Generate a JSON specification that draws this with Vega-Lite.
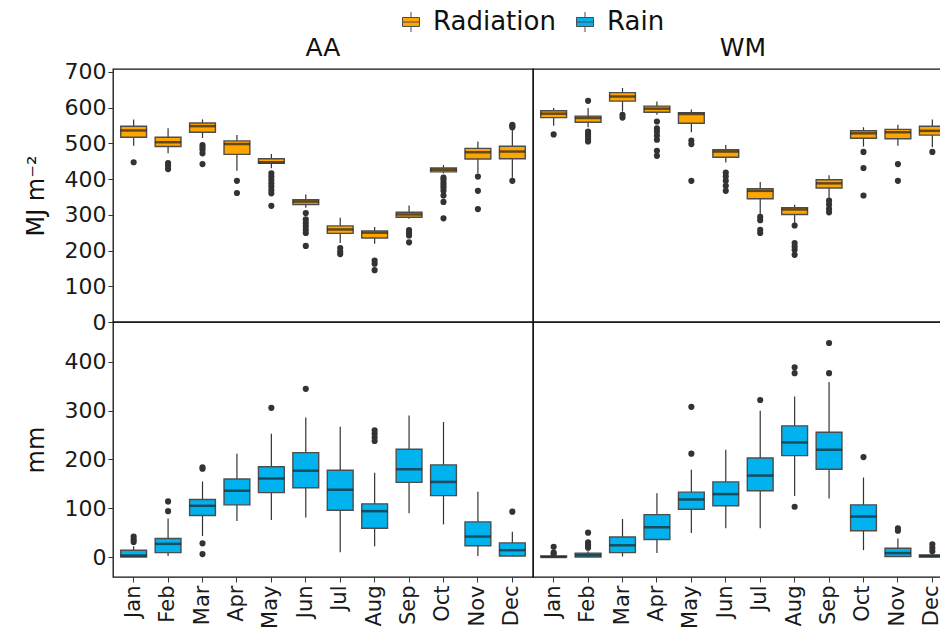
{
  "$schema": "https://vega.github.io/schema/vega-lite/v6.json",
  "padding": {"left": 23, "top": 9, "right": 0, "bottom": 0},
  "config": {
    "font": "DejaVu Sans",
    "view": {"stroke": "#111111", "strokeWidth": 1.3},
    "title": {"fontSize": 25, "fontWeight": "normal", "color": "#111111", "offset": 8},
    "axis": {"grid": false, "domain": false, "labelColor": "#1a1a1a", "labelFontSize": 22, "labelOverlap": false, "tickColor": "#333333", "tickSize": 5, "titleFontWeight": "normal", "titleColor": "#111111", "titleFontSize": 24}
  },
  "datasets": {
    "stats": [
      {"var": "Radiation", "site": "AA", "month": "Jan", "lo": 493, "q1": 517, "med": 536, "q3": 548, "hi": 567},
      {"var": "Radiation", "site": "AA", "month": "Feb", "lo": 472, "q1": 491, "med": 503, "q3": 517, "hi": 542},
      {"var": "Radiation", "site": "AA", "month": "Mar", "lo": 515, "q1": 531, "med": 548, "q3": 557, "hi": 567},
      {"var": "Radiation", "site": "AA", "month": "Apr", "lo": 423, "q1": 469, "med": 498, "q3": 507, "hi": 523},
      {"var": "Radiation", "site": "AA", "month": "May", "lo": 430, "q1": 444, "med": 447, "q3": 457, "hi": 470},
      {"var": "Radiation", "site": "AA", "month": "Jun", "lo": 320, "q1": 329, "med": 337, "q3": 342, "hi": 357},
      {"var": "Radiation", "site": "AA", "month": "Jul", "lo": 221, "q1": 248, "med": 259, "q3": 269, "hi": 292},
      {"var": "Radiation", "site": "AA", "month": "Aug", "lo": 219, "q1": 235, "med": 250, "q3": 255, "hi": 266},
      {"var": "Radiation", "site": "AA", "month": "Sep", "lo": 289, "q1": 293, "med": 301, "q3": 307, "hi": 326},
      {"var": "Radiation", "site": "AA", "month": "Oct", "lo": 416, "q1": 420, "med": 426, "q3": 431, "hi": 439},
      {"var": "Radiation", "site": "AA", "month": "Nov", "lo": 416, "q1": 456, "med": 475, "q3": 486, "hi": 505},
      {"var": "Radiation", "site": "AA", "month": "Dec", "lo": 404, "q1": 457, "med": 477, "q3": 492, "hi": 540},
      {"var": "Radiation", "site": "WM", "month": "Jan", "lo": 549, "q1": 572, "med": 583, "q3": 591, "hi": 599},
      {"var": "Radiation", "site": "WM", "month": "Feb", "lo": 545, "q1": 559, "med": 571, "q3": 576, "hi": 599},
      {"var": "Radiation", "site": "WM", "month": "Mar", "lo": 589, "q1": 618, "med": 631, "q3": 642, "hi": 655},
      {"var": "Radiation", "site": "WM", "month": "Apr", "lo": 580, "q1": 587, "med": 597, "q3": 604, "hi": 617},
      {"var": "Radiation", "site": "WM", "month": "May", "lo": 531, "q1": 556, "med": 582, "q3": 586, "hi": 595},
      {"var": "Radiation", "site": "WM", "month": "Jun", "lo": 446, "q1": 461, "med": 477, "q3": 482, "hi": 495},
      {"var": "Radiation", "site": "WM", "month": "Jul", "lo": 301, "q1": 345, "med": 367, "q3": 373, "hi": 392},
      {"var": "Radiation", "site": "WM", "month": "Aug", "lo": 277, "q1": 301, "med": 315, "q3": 320, "hi": 328},
      {"var": "Radiation", "site": "WM", "month": "Sep", "lo": 348, "q1": 375, "med": 388, "q3": 398, "hi": 411},
      {"var": "Radiation", "site": "WM", "month": "Oct", "lo": 491, "q1": 514, "med": 528, "q3": 535, "hi": 545},
      {"var": "Radiation", "site": "WM", "month": "Nov", "lo": 493, "q1": 513, "med": 531, "q3": 539, "hi": 552},
      {"var": "Radiation", "site": "WM", "month": "Dec", "lo": 489, "q1": 523, "med": 535, "q3": 548, "hi": 567},
      {"var": "Rain", "site": "AA", "month": "Jan", "lo": 0, "q1": 0, "med": 3, "q3": 14, "hi": 22},
      {"var": "Rain", "site": "AA", "month": "Feb", "lo": 2, "q1": 9, "med": 27, "q3": 38, "hi": 79},
      {"var": "Rain", "site": "AA", "month": "Mar", "lo": 43, "q1": 85, "med": 105, "q3": 118, "hi": 155},
      {"var": "Rain", "site": "AA", "month": "Apr", "lo": 74, "q1": 107, "med": 136, "q3": 160, "hi": 212},
      {"var": "Rain", "site": "AA", "month": "May", "lo": 76, "q1": 132, "med": 161, "q3": 185, "hi": 253},
      {"var": "Rain", "site": "AA", "month": "Jun", "lo": 81, "q1": 142, "med": 177, "q3": 214, "hi": 286},
      {"var": "Rain", "site": "AA", "month": "Jul", "lo": 10, "q1": 96, "med": 138, "q3": 178, "hi": 267},
      {"var": "Rain", "site": "AA", "month": "Aug", "lo": 22, "q1": 59, "med": 94, "q3": 109, "hi": 173},
      {"var": "Rain", "site": "AA", "month": "Sep", "lo": 90, "q1": 153, "med": 180, "q3": 221, "hi": 290},
      {"var": "Rain", "site": "AA", "month": "Oct", "lo": 67, "q1": 126, "med": 154, "q3": 189, "hi": 277},
      {"var": "Rain", "site": "AA", "month": "Nov", "lo": 2, "q1": 23, "med": 42, "q3": 72, "hi": 134},
      {"var": "Rain", "site": "AA", "month": "Dec", "lo": 1, "q1": 2, "med": 14, "q3": 29, "hi": 52},
      {"var": "Rain", "site": "WM", "month": "Jan", "lo": 0, "q1": 0, "med": 0, "q3": 2, "hi": 5},
      {"var": "Rain", "site": "WM", "month": "Feb", "lo": 0, "q1": 0, "med": 4, "q3": 8, "hi": 12},
      {"var": "Rain", "site": "WM", "month": "Mar", "lo": 1, "q1": 9, "med": 24, "q3": 41, "hi": 78},
      {"var": "Rain", "site": "WM", "month": "Apr", "lo": 8, "q1": 36, "med": 61, "q3": 87, "hi": 131},
      {"var": "Rain", "site": "WM", "month": "May", "lo": 49, "q1": 98, "med": 118, "q3": 133, "hi": 179},
      {"var": "Rain", "site": "WM", "month": "Jun", "lo": 59, "q1": 105, "med": 129, "q3": 154, "hi": 220},
      {"var": "Rain", "site": "WM", "month": "Jul", "lo": 59, "q1": 136, "med": 167, "q3": 203, "hi": 300},
      {"var": "Rain", "site": "WM", "month": "Aug", "lo": 125, "q1": 208, "med": 235, "q3": 269, "hi": 329},
      {"var": "Rain", "site": "WM", "month": "Sep", "lo": 120, "q1": 180, "med": 220, "q3": 256, "hi": 359},
      {"var": "Rain", "site": "WM", "month": "Oct", "lo": 14, "q1": 54, "med": 83, "q3": 107, "hi": 163},
      {"var": "Rain", "site": "WM", "month": "Nov", "lo": 0, "q1": 1, "med": 8, "q3": 18, "hi": 38},
      {"var": "Rain", "site": "WM", "month": "Dec", "lo": 0, "q1": 0, "med": 2, "q3": 4, "hi": 8},
      {"var": "Radiation", "site": "AA", "month": "Jan", "out": 447},
      {"var": "Radiation", "site": "AA", "month": "Feb", "out": 445},
      {"var": "Radiation", "site": "AA", "month": "Feb", "out": 437},
      {"var": "Radiation", "site": "AA", "month": "Feb", "out": 428},
      {"var": "Radiation", "site": "AA", "month": "Mar", "out": 495},
      {"var": "Radiation", "site": "AA", "month": "Mar", "out": 489},
      {"var": "Radiation", "site": "AA", "month": "Mar", "out": 482},
      {"var": "Radiation", "site": "AA", "month": "Mar", "out": 472},
      {"var": "Radiation", "site": "AA", "month": "Mar", "out": 442},
      {"var": "Radiation", "site": "AA", "month": "Apr", "out": 395},
      {"var": "Radiation", "site": "AA", "month": "Apr", "out": 361},
      {"var": "Radiation", "site": "AA", "month": "May", "out": 416},
      {"var": "Radiation", "site": "AA", "month": "May", "out": 407},
      {"var": "Radiation", "site": "AA", "month": "May", "out": 398},
      {"var": "Radiation", "site": "AA", "month": "May", "out": 388},
      {"var": "Radiation", "site": "AA", "month": "May", "out": 379},
      {"var": "Radiation", "site": "AA", "month": "May", "out": 369},
      {"var": "Radiation", "site": "AA", "month": "May", "out": 360},
      {"var": "Radiation", "site": "AA", "month": "May", "out": 325},
      {"var": "Radiation", "site": "AA", "month": "Jun", "out": 305},
      {"var": "Radiation", "site": "AA", "month": "Jun", "out": 287},
      {"var": "Radiation", "site": "AA", "month": "Jun", "out": 277},
      {"var": "Radiation", "site": "AA", "month": "Jun", "out": 268},
      {"var": "Radiation", "site": "AA", "month": "Jun", "out": 258},
      {"var": "Radiation", "site": "AA", "month": "Jun", "out": 249},
      {"var": "Radiation", "site": "AA", "month": "Jun", "out": 213},
      {"var": "Radiation", "site": "AA", "month": "Jul", "out": 207},
      {"var": "Radiation", "site": "AA", "month": "Jul", "out": 197},
      {"var": "Radiation", "site": "AA", "month": "Jul", "out": 190},
      {"var": "Radiation", "site": "AA", "month": "Aug", "out": 172},
      {"var": "Radiation", "site": "AA", "month": "Aug", "out": 163},
      {"var": "Radiation", "site": "AA", "month": "Aug", "out": 145},
      {"var": "Radiation", "site": "AA", "month": "Sep", "out": 257},
      {"var": "Radiation", "site": "AA", "month": "Sep", "out": 249},
      {"var": "Radiation", "site": "AA", "month": "Sep", "out": 242},
      {"var": "Radiation", "site": "AA", "month": "Sep", "out": 223},
      {"var": "Radiation", "site": "AA", "month": "Oct", "out": 404},
      {"var": "Radiation", "site": "AA", "month": "Oct", "out": 398},
      {"var": "Radiation", "site": "AA", "month": "Oct", "out": 390},
      {"var": "Radiation", "site": "AA", "month": "Oct", "out": 383},
      {"var": "Radiation", "site": "AA", "month": "Oct", "out": 376},
      {"var": "Radiation", "site": "AA", "month": "Oct", "out": 367},
      {"var": "Radiation", "site": "AA", "month": "Oct", "out": 354},
      {"var": "Radiation", "site": "AA", "month": "Oct", "out": 336},
      {"var": "Radiation", "site": "AA", "month": "Oct", "out": 290},
      {"var": "Radiation", "site": "AA", "month": "Nov", "out": 407},
      {"var": "Radiation", "site": "AA", "month": "Nov", "out": 367},
      {"var": "Radiation", "site": "AA", "month": "Nov", "out": 316},
      {"var": "Radiation", "site": "AA", "month": "Dec", "out": 552},
      {"var": "Radiation", "site": "AA", "month": "Dec", "out": 548},
      {"var": "Radiation", "site": "AA", "month": "Dec", "out": 545},
      {"var": "Radiation", "site": "AA", "month": "Dec", "out": 395},
      {"var": "Radiation", "site": "WM", "month": "Jan", "out": 525},
      {"var": "Radiation", "site": "WM", "month": "Feb", "out": 619},
      {"var": "Radiation", "site": "WM", "month": "Feb", "out": 533},
      {"var": "Radiation", "site": "WM", "month": "Feb", "out": 526},
      {"var": "Radiation", "site": "WM", "month": "Feb", "out": 520},
      {"var": "Radiation", "site": "WM", "month": "Feb", "out": 512},
      {"var": "Radiation", "site": "WM", "month": "Feb", "out": 505},
      {"var": "Radiation", "site": "WM", "month": "Mar", "out": 580},
      {"var": "Radiation", "site": "WM", "month": "Mar", "out": 572},
      {"var": "Radiation", "site": "WM", "month": "Apr", "out": 561},
      {"var": "Radiation", "site": "WM", "month": "Apr", "out": 542},
      {"var": "Radiation", "site": "WM", "month": "Apr", "out": 533},
      {"var": "Radiation", "site": "WM", "month": "Apr", "out": 522},
      {"var": "Radiation", "site": "WM", "month": "Apr", "out": 510},
      {"var": "Radiation", "site": "WM", "month": "Apr", "out": 479},
      {"var": "Radiation", "site": "WM", "month": "Apr", "out": 465},
      {"var": "Radiation", "site": "WM", "month": "May", "out": 508},
      {"var": "Radiation", "site": "WM", "month": "May", "out": 498},
      {"var": "Radiation", "site": "WM", "month": "May", "out": 395},
      {"var": "Radiation", "site": "WM", "month": "Jun", "out": 418},
      {"var": "Radiation", "site": "WM", "month": "Jun", "out": 407},
      {"var": "Radiation", "site": "WM", "month": "Jun", "out": 395},
      {"var": "Radiation", "site": "WM", "month": "Jun", "out": 381},
      {"var": "Radiation", "site": "WM", "month": "Jun", "out": 367},
      {"var": "Radiation", "site": "WM", "month": "Jul", "out": 294},
      {"var": "Radiation", "site": "WM", "month": "Jul", "out": 285},
      {"var": "Radiation", "site": "WM", "month": "Jul", "out": 258},
      {"var": "Radiation", "site": "WM", "month": "Jul", "out": 249},
      {"var": "Radiation", "site": "WM", "month": "Aug", "out": 270},
      {"var": "Radiation", "site": "WM", "month": "Aug", "out": 221},
      {"var": "Radiation", "site": "WM", "month": "Aug", "out": 211},
      {"var": "Radiation", "site": "WM", "month": "Aug", "out": 202},
      {"var": "Radiation", "site": "WM", "month": "Aug", "out": 188},
      {"var": "Radiation", "site": "WM", "month": "Sep", "out": 340},
      {"var": "Radiation", "site": "WM", "month": "Sep", "out": 329},
      {"var": "Radiation", "site": "WM", "month": "Sep", "out": 317},
      {"var": "Radiation", "site": "WM", "month": "Sep", "out": 307},
      {"var": "Radiation", "site": "WM", "month": "Oct", "out": 476},
      {"var": "Radiation", "site": "WM", "month": "Oct", "out": 431},
      {"var": "Radiation", "site": "WM", "month": "Oct", "out": 354},
      {"var": "Radiation", "site": "WM", "month": "Nov", "out": 442},
      {"var": "Radiation", "site": "WM", "month": "Nov", "out": 395},
      {"var": "Radiation", "site": "WM", "month": "Dec", "out": 476},
      {"var": "Rain", "site": "AA", "month": "Jan", "out": 42},
      {"var": "Rain", "site": "AA", "month": "Jan", "out": 36},
      {"var": "Rain", "site": "AA", "month": "Jan", "out": 31},
      {"var": "Rain", "site": "AA", "month": "Feb", "out": 114},
      {"var": "Rain", "site": "AA", "month": "Feb", "out": 94},
      {"var": "Rain", "site": "AA", "month": "Mar", "out": 184},
      {"var": "Rain", "site": "AA", "month": "Mar", "out": 181},
      {"var": "Rain", "site": "AA", "month": "Mar", "out": 28},
      {"var": "Rain", "site": "AA", "month": "Mar", "out": 6},
      {"var": "Rain", "site": "AA", "month": "May", "out": 306},
      {"var": "Rain", "site": "AA", "month": "Jun", "out": 345},
      {"var": "Rain", "site": "AA", "month": "Aug", "out": 260},
      {"var": "Rain", "site": "AA", "month": "Aug", "out": 253},
      {"var": "Rain", "site": "AA", "month": "Aug", "out": 245},
      {"var": "Rain", "site": "AA", "month": "Aug", "out": 238},
      {"var": "Rain", "site": "AA", "month": "Dec", "out": 93},
      {"var": "Rain", "site": "WM", "month": "Jan", "out": 21},
      {"var": "Rain", "site": "WM", "month": "Jan", "out": 9},
      {"var": "Rain", "site": "WM", "month": "Jan", "out": 6},
      {"var": "Rain", "site": "WM", "month": "Feb", "out": 50},
      {"var": "Rain", "site": "WM", "month": "Feb", "out": 30},
      {"var": "Rain", "site": "WM", "month": "Feb", "out": 26},
      {"var": "Rain", "site": "WM", "month": "Feb", "out": 23},
      {"var": "Rain", "site": "WM", "month": "Feb", "out": 19},
      {"var": "Rain", "site": "WM", "month": "May", "out": 212},
      {"var": "Rain", "site": "WM", "month": "May", "out": 308},
      {"var": "Rain", "site": "WM", "month": "Jul", "out": 322},
      {"var": "Rain", "site": "WM", "month": "Aug", "out": 389},
      {"var": "Rain", "site": "WM", "month": "Aug", "out": 377},
      {"var": "Rain", "site": "WM", "month": "Aug", "out": 103},
      {"var": "Rain", "site": "WM", "month": "Sep", "out": 439},
      {"var": "Rain", "site": "WM", "month": "Sep", "out": 377},
      {"var": "Rain", "site": "WM", "month": "Oct", "out": 205},
      {"var": "Rain", "site": "WM", "month": "Nov", "out": 59},
      {"var": "Rain", "site": "WM", "month": "Nov", "out": 54},
      {"var": "Rain", "site": "WM", "month": "Dec", "out": 26},
      {"var": "Rain", "site": "WM", "month": "Dec", "out": 19},
      {"var": "Rain", "site": "WM", "month": "Dec", "out": 12}
    ]
  },
  "data": {"name": "stats"},
  "columns": 2,
  "spacing": 0,
  "bounds": "flush",
  "resolve": {"scale": {"color": "shared"}, "legend": {"color": "shared"}},
  "concat": [
    {
      "transform": [{"filter": "datum.var == 'Radiation' && datum.site == 'AA'"}],
      "title": {"text": "AA", "offset": 0},
      "width": 420,
      "height": 253,
      "encoding": {
        "x": {"field": "month", "type": "nominal", "sort": ["Jan", "Feb", "Mar", "Apr", "May", "Jun", "Jul", "Aug", "Sep", "Oct", "Nov", "Dec"], "scale": {"paddingInner": 0.25, "paddingOuter": 0.225}, "axis": null}
      },
      "layer": [
        {
          "mark": {"type": "rule", "color": "#333333", "strokeWidth": 1.2},
          "encoding": {
            "y": {"field": "lo", "type": "quantitative", "title": "MJ m⁻²", "scale": {"domain": [0, 708], "nice": false, "zero": false}, "axis": {"values": [0, 100, 200, 300, 400, 500, 600, 700], "titlePadding": 16}},
            "y2": {"field": "hi"}
          }
        },
        {
          "mark": {"type": "bar", "stroke": "#4d4d4d", "strokeWidth": 1.4},
          "encoding": {
            "y": {"field": "q1", "type": "quantitative", "title": "MJ m⁻²", "axis": {"values": [0, 100, 200, 300, 400, 500, 600, 700], "titlePadding": 16}},
            "y2": {"field": "q3"},
            "color": {
              "field": "var", "type": "nominal",
              "scale": {"domain": ["Radiation", "Rain"], "range": ["#FFA500", "#00B2EE"]},
              "legend": {"orient": "none", "legendX": 285, "legendY": -60, "direction": "horizontal", "title": null, "labelFontSize": 26, "labelColor": "#111111", "symbolType": "M-0.85,-0.45H0.85V0.45H-0.85Z M-0.85,0H0.85 M0,-0.45V-1 M0,0.45V1", "symbolSize": 400, "symbolStrokeColor": "#333333", "symbolStrokeWidth": 1, "symbolOpacity": 1, "columnPadding": 16, "labelOffset": 9}
            }
          }
        },
        {
          "mark": {"type": "tick", "color": "#222222", "thickness": 2.5, "size": 26},
          "encoding": {"y": {"field": "med", "type": "quantitative", "title": "MJ m⁻²", "axis": {"values": [0, 100, 200, 300, 400, 500, 600, 700], "titlePadding": 16}}}
        },
        {
          "mark": {"type": "circle", "color": "#333333", "size": 38, "opacity": 1},
          "encoding": {"y": {"field": "out", "type": "quantitative", "title": "MJ m⁻²", "axis": {"values": [0, 100, 200, 300, 400, 500, 600, 700], "titlePadding": 16}}}
        }
      ]
    },
    {
      "transform": [{"filter": "datum.var == 'Radiation' && datum.site == 'WM'"}],
      "title": "WM",
      "width": 420,
      "height": 253,
      "encoding": {
        "x": {"field": "month", "type": "nominal", "sort": ["Jan", "Feb", "Mar", "Apr", "May", "Jun", "Jul", "Aug", "Sep", "Oct", "Nov", "Dec"], "scale": {"paddingInner": 0.25, "paddingOuter": 0.225}, "axis": null}
      },
      "layer": [
        {
          "mark": {"type": "rule", "color": "#333333", "strokeWidth": 1.2},
          "encoding": {
            "y": {"field": "lo", "type": "quantitative", "scale": {"domain": [0, 708], "nice": false, "zero": false}, "axis": null},
            "y2": {"field": "hi"}
          }
        },
        {
          "mark": {"type": "bar", "stroke": "#4d4d4d", "strokeWidth": 1.4},
          "encoding": {
            "y": {"field": "q1", "type": "quantitative", "axis": null},
            "y2": {"field": "q3"},
            "color": {"field": "var", "type": "nominal", "scale": {"domain": ["Radiation", "Rain"], "range": ["#FFA500", "#00B2EE"]}}
          }
        },
        {
          "mark": {"type": "tick", "color": "#222222", "thickness": 2.5, "size": 26},
          "encoding": {"y": {"field": "med", "type": "quantitative", "axis": null}}
        },
        {
          "mark": {"type": "circle", "color": "#333333", "size": 38, "opacity": 1},
          "encoding": {"y": {"field": "out", "type": "quantitative", "axis": null}}
        }
      ]
    },
    {
      "transform": [{"filter": "datum.var == 'Rain' && datum.site == 'AA'"}],
      "width": 420,
      "height": 255,
      "encoding": {
        "x": {"field": "month", "type": "nominal", "sort": ["Jan", "Feb", "Mar", "Apr", "May", "Jun", "Jul", "Aug", "Sep", "Oct", "Nov", "Dec"], "scale": {"paddingInner": 0.25, "paddingOuter": 0.225}, "axis": {"title": null, "labelAngle": -90, "labelPadding": 3, "labelFontSize": 21}}
      },
      "layer": [
        {
          "mark": {"type": "rule", "color": "#333333", "strokeWidth": 1.2},
          "encoding": {
            "y": {"field": "lo", "type": "quantitative", "title": "mm", "scale": {"domain": [-41, 482], "nice": false, "zero": false}, "axis": {"values": [0, 100, 200, 300, 400], "titlePadding": 16}},
            "y2": {"field": "hi"}
          }
        },
        {
          "mark": {"type": "bar", "stroke": "#4d4d4d", "strokeWidth": 1.4},
          "encoding": {
            "y": {"field": "q1", "type": "quantitative", "title": "mm", "axis": {"values": [0, 100, 200, 300, 400], "titlePadding": 16}},
            "y2": {"field": "q3"},
            "color": {"field": "var", "type": "nominal", "scale": {"domain": ["Radiation", "Rain"], "range": ["#FFA500", "#00B2EE"]}}
          }
        },
        {
          "mark": {"type": "tick", "color": "#222222", "thickness": 2.5, "size": 26},
          "encoding": {"y": {"field": "med", "type": "quantitative", "title": "mm", "axis": {"values": [0, 100, 200, 300, 400], "titlePadding": 16}}}
        },
        {
          "mark": {"type": "circle", "color": "#333333", "size": 38, "opacity": 1},
          "encoding": {"y": {"field": "out", "type": "quantitative", "title": "mm", "axis": {"values": [0, 100, 200, 300, 400], "titlePadding": 16}}}
        }
      ]
    },
    {
      "transform": [{"filter": "datum.var == 'Rain' && datum.site == 'WM'"}],
      "width": 420,
      "height": 255,
      "encoding": {
        "x": {"field": "month", "type": "nominal", "sort": ["Jan", "Feb", "Mar", "Apr", "May", "Jun", "Jul", "Aug", "Sep", "Oct", "Nov", "Dec"], "scale": {"paddingInner": 0.25, "paddingOuter": 0.225}, "axis": {"title": null, "labelAngle": -90, "labelPadding": 3, "labelFontSize": 21}}
      },
      "layer": [
        {
          "mark": {"type": "rule", "color": "#333333", "strokeWidth": 1.2},
          "encoding": {
            "y": {"field": "lo", "type": "quantitative", "scale": {"domain": [-41, 482], "nice": false, "zero": false}, "axis": null},
            "y2": {"field": "hi"}
          }
        },
        {
          "mark": {"type": "bar", "stroke": "#4d4d4d", "strokeWidth": 1.4},
          "encoding": {
            "y": {"field": "q1", "type": "quantitative", "axis": null},
            "y2": {"field": "q3"},
            "color": {"field": "var", "type": "nominal", "scale": {"domain": ["Radiation", "Rain"], "range": ["#FFA500", "#00B2EE"]}}
          }
        },
        {
          "mark": {"type": "tick", "color": "#222222", "thickness": 2.5, "size": 26},
          "encoding": {"y": {"field": "med", "type": "quantitative", "axis": null}}
        },
        {
          "mark": {"type": "circle", "color": "#333333", "size": 38, "opacity": 1},
          "encoding": {"y": {"field": "out", "type": "quantitative", "axis": null}}
        }
      ]
    }
  ]
}
